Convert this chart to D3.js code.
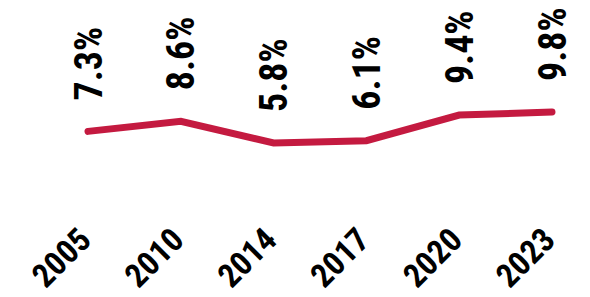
<!DOCTYPE html>
<html><head><meta charset="utf-8">
<script src="https://cdn.jsdelivr.net/npm/d3@7"></script>
<style>
html,body{margin:0;padding:0;background:#fff;}
svg text{font-family:"Liberation Sans Narrow","Arial Narrow","Roboto Condensed",sans-serif;font-weight:bold;fill:#000;}
</style></head>
<body><svg id="c" width="590" height="297"></svg>
<script>
const years = ["2005","2010","2014","2017","2020","2023"];
const values = [7.3, 8.6, 5.8, 6.1, 9.4, 9.8];
const labels = ["7.3%","8.6%","5.8%","6.1%","9.4%","9.8%"];

const svg = d3.select("#c");
const x = d3.scalePoint().domain(years).range([88, 552]);
const y = d3.scaleLinear().domain([5.8, 9.8]).range([143, 112]);
const data = years.map((yr,i)=>({yr, v:values[i], l:labels[i]}));

svg.append("path").datum(data)
  .attr("fill","none").attr("stroke","#C41A40").attr("stroke-width",7)
  .attr("stroke-linecap","round").attr("stroke-linejoin","miter")
  .attr("d", d3.line().x(d=>x(d.yr)).y(d=>y(d.v)));

svg.selectAll("text.val").data(data).enter().append("text")
  .attr("class","val")
  .attr("transform", d=>`translate(${x(d.yr)},${y(d.v)-31}) rotate(-90)`)
  .attr("dy","0.36em")
  .attr("text-anchor","start")
  .style("font-size","38px")
  .text(d=>d.l);

svg.selectAll("text.yr").data(data).enter().append("text")
  .attr("class","yr")
  .attr("transform", d=>`translate(${x(d.yr)+5},242) rotate(-45)`)
  .attr("text-anchor","end")
  .style("font-size","33px")
  .text(d=>d.yr);
</script></body></html>
